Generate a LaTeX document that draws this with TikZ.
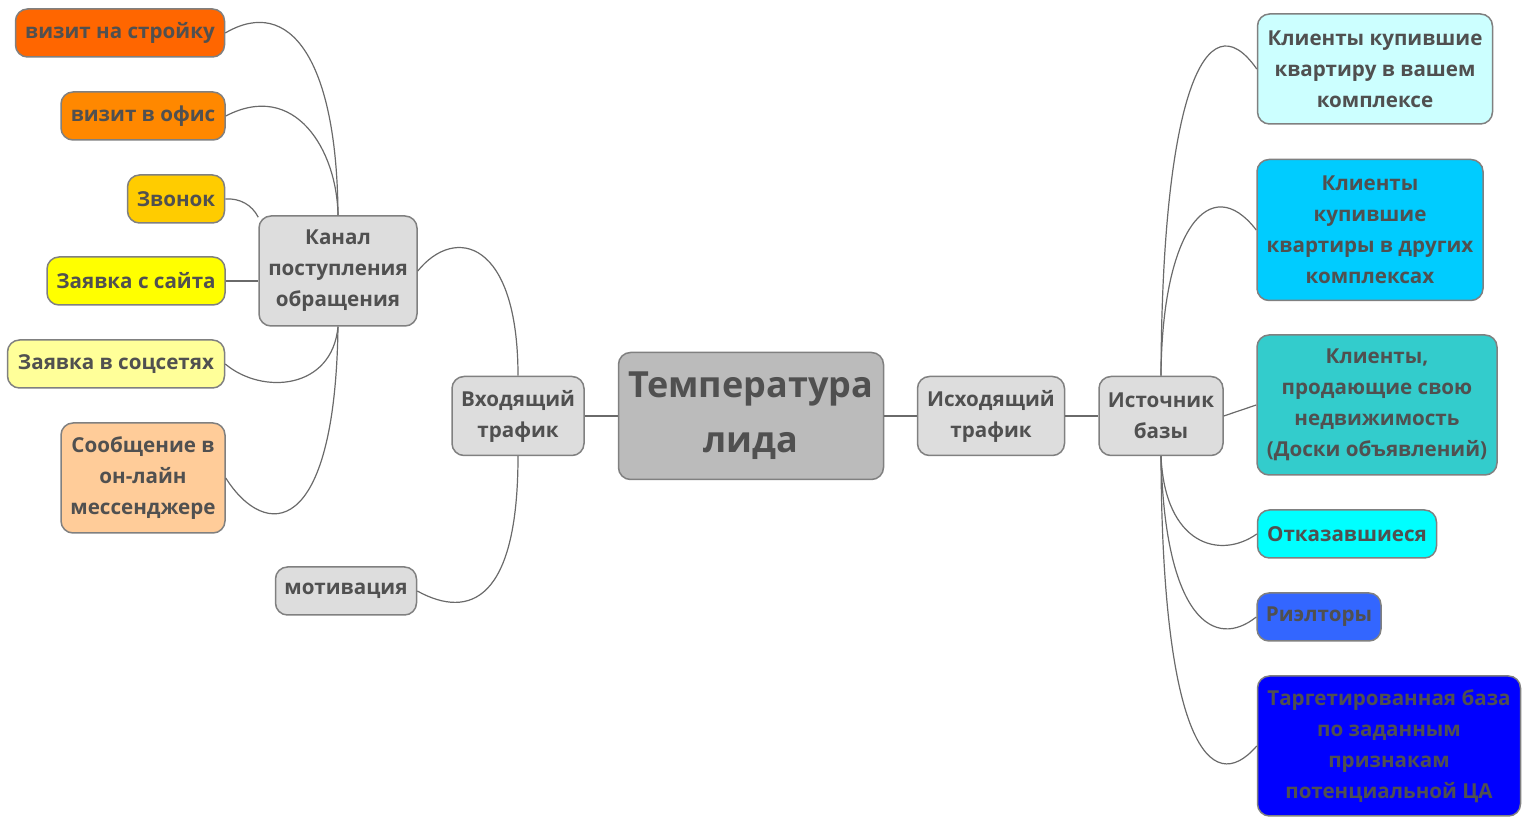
\documentclass[tikz,border=0pt]{standalone}
\usepackage{fontspec}
\setmainfont{Open Sans}
\usepackage{tikz}
\definecolor{txt}{HTML}{505050}
\definecolor{edge}{HTML}{808080}
\definecolor{wire}{HTML}{6A6A6A}
\definecolor{cStroy}{HTML}{FF6600}
\definecolor{cOfis}{HTML}{FF8800}
\definecolor{cZvon}{HTML}{FFCC00}
\definecolor{cSajt}{HTML}{FFFF00}
\definecolor{cSoc}{HTML}{FFFF99}
\definecolor{cMess}{HTML}{FFCC99}
\definecolor{cGray}{HTML}{DDDDDD}
\definecolor{cRoot}{HTML}{BBBBBB}
\definecolor{cVash}{HTML}{CCFFFF}
\definecolor{cDrug}{HTML}{00CCFF}
\definecolor{cDoski}{HTML}{33CCCC}
\definecolor{cOtkaz}{HTML}{00FFFF}
\definecolor{cRielt}{HTML}{3366FF}
\definecolor{cTarg}{HTML}{0000FF}
\tikzset{
  box/.style={draw=edge,line width=0.75pt,rounded corners=6pt,inner sep=0pt,
    align=center,text=txt,font=\fontsize{10.3}{15.5}\selectfont\bfseries},
  link/.style={draw=wire,line width=0.6pt},
}

\begin{document}
\begin{tikzpicture}[x=0.5pt,y=-0.5pt]
\useasboundingbox (0,0) rectangle (1522,817);
%centre
\node[box,fill=cRoot,minimum width=132.5pt,minimum height=63.5pt,
  font=\fontsize{18}{27.5}\selectfont\bfseries] (temp) at (751,416) {Температура\\лида};
\node[box,fill=cGray,minimum width=66pt,minimum height=39.5pt] (vhod) at (518,416) {Входящий\\трафик};
\node[box,fill=cGray,minimum width=73.5pt,minimum height=39.5pt] (ishod) at (991,416) {Исходящий\\трафик};
\node[box,fill=cGray,minimum width=62pt,minimum height=39.5pt] (istoch) at (1161,416) {Источник\\базы};
%incoming
\node[box,fill=cGray,minimum width=79pt,minimum height=55pt] (kanal) at (338,271) {Канал\\поступления\\обращения};
\node[box,fill=cGray,minimum width=70.5pt,minimum height=24pt] (motiv) at (346,591) {мотивация};
\node[box,fill=cStroy,minimum width=104.5pt,minimum height=24pt] (stroy) at (120,33) {визит на стройку};
\node[box,fill=cOfis,minimum width=82pt,minimum height=24pt] (ofis) at (143,116) {визит в офис};
\node[box,fill=cZvon,minimum width=48.5pt,minimum height=24pt] (zvon) at (176,199) {Звонок};
\node[box,fill=cSajt,minimum width=89pt,minimum height=24pt] (sajt) at (136,281) {Заявка с сайта};
\node[box,fill=cSoc,minimum width=108.5pt,minimum height=24pt] (soc) at (116,364) {Заявка в соцсетях};
\node[box,fill=cMess,minimum width=82pt,minimum height=55pt] (mess) at (143,478) {Сообщение в\\он-лайн\\мессенджере};
%outgoing
\node[box,fill=cVash,minimum width=117.5pt,minimum height=55pt] (vash) at (1375,69) {Клиенты купившие\\квартиру в вашем\\комплексе};
\node[box,fill=cDrug,minimum width=113pt,minimum height=70.5pt] (drug) at (1370,230) {Клиенты\\купившие\\квартиры в других\\комплексах};
\node[box,fill=cDoski,minimum width=120pt,minimum height=70pt] (doski) at (1377,405) {Клиенты,\\продающие свою\\недвижимость\\(Доски объявлений)};
\node[box,fill=cOtkaz,minimum width=89.5pt,minimum height=24pt] (otkaz) at (1347,534) {Отказавшиеся};
\node[box,fill=cRielt,minimum width=62pt,minimum height=24pt] (rielt) at (1319,617) {Риэлторы};
\node[box,fill=cTarg,minimum width=131.5pt,minimum height=70pt] (targ) at (1389,746) {Таргетированная база\\по заданным\\признакам\\потенциальной ЦА};
%links
\draw[link] (vhod) -- (temp);
\draw[link] (temp) -- (ishod);
\draw[link] (ishod) -- (istoch);
\draw[link] (kanal.east) .. controls (455,225) and (518,240) .. (vhod.north);
\draw[link] (vhod.south) .. controls (518,600) and (470,620) .. (motiv.east);
\draw[link] (kanal.north) .. controls (337,60) and (290,-5) .. (stroy.east);
\draw[link] (kanal.north) .. controls (337,150) and (295,80) .. (ofis.east);
\draw[link] (kanal.146) .. controls (252,205) and (240,198) .. (zvon.east);
\draw[link] (sajt.east) -- (sajt.east -| kanal.west);
\draw[link] (kanal.south) .. controls (332,390) and (262,395) .. (soc.east);
\draw[link] (kanal.south) .. controls (335,540) and (265,540) .. (mess.east);
\draw[link] (istoch.north) .. controls (1162,100) and (1205,-5) .. (vash.west);
\draw[link] (istoch.north) .. controls (1162,230) and (1210,170) .. (drug.west);
\draw[link] (istoch.east) -- (doski.west);
\draw[link] (istoch.south) .. controls (1165,545) and (1220,560) .. (otkaz.west);
\draw[link] (istoch.south) .. controls (1165,620) and (1215,650) .. (rielt.west);
\draw[link] (istoch.south) .. controls (1162,740) and (1210,800) .. (targ.west);
\end{tikzpicture}
\end{document}
